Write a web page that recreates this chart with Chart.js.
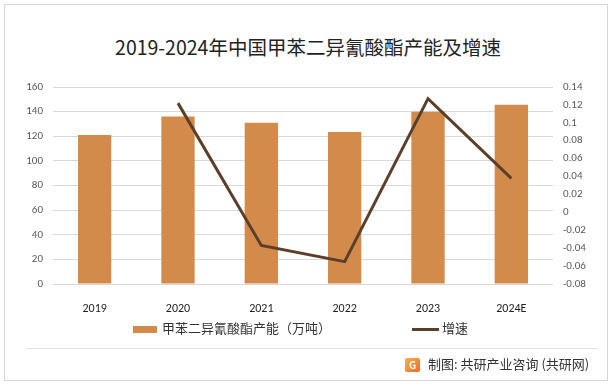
<!DOCTYPE html>
<html>
<head>
<meta charset="utf-8">
<script src="https://cdn.jsdelivr.net/npm/chart.js@4"></script>
<style>
    body { margin: 0; background: #fff; font-family: "Noto Sans CJK SC", "Noto Sans", sans-serif; }
    #wrap { position: relative; width: 616px; height: 388px; overflow: hidden; }
    #frame { position: absolute; left: 4px; top: 4px; width: 604px; height: 377px; border: 1px solid #d6d6d6; box-sizing: border-box; }
    #title { position: absolute; left: 0; width: 616px; top: 33px; text-align: center; font-size: 19.5px; color: #222; line-height: 28px; }
    canvas { position: absolute; left: 0; top: 0; }
    .legend { position: absolute; top: 319px; font-size: 13px; color: #333; line-height: 18px; white-space: nowrap; }
    .sw-bar { display: inline-block; width: 24px; height: 7px; background: #d38b4c; vertical-align: middle; margin-right: 5px; }
    .sw-line { display: inline-block; width: 27px; height: 3px; background: #5c3f2a; vertical-align: middle; margin-right: 3px; }
    #sep { position: absolute; left: 26px; width: 572px; top: 348px; height: 1px; background: #e2e2e2; }
    #footer { position: absolute; left: 405px; top: 355px; font-size: 13px; color: #333; line-height: 18px; white-space: nowrap; }
    .logo { display: inline-block; width: 15px; height: 14px; border-radius: 2px; background: linear-gradient(135deg, #f6b24a, #ee6a2c); color: #fff; font-size: 10px; line-height: 14px; text-align: center; vertical-align: middle; margin-right: 8px; font-weight: bold; }
</style>
</head>
<body>
<div id="wrap">
    <div id="frame"></div>
    <div id="title">2019-2024年中国甲苯二异氰酸酯产能及增速</div>
    <canvas id="chart" width="616" height="388"></canvas>
    <div class="legend" style="left:133px"><span class="sw-bar"></span>甲苯二异氰酸酯产能（万吨）</div>
    <div class="legend" style="left:412px"><span class="sw-line"></span>增速</div>
    <div id="sep"></div>
    <div id="footer"><span class="logo">G</span>制图: 共研产业咨询 (共研网)</div>
</div>
<script>
// 数据
const years = ['2019', '2020', '2021', '2022', '2023', '2024E'];
const capacity = [121, 136, 131, 123.5, 140, 145.5];
const growth = [null, 0.122, -0.037, -0.055, 0.127, 0.038];
const leftTicks = [0, 20, 40, 60, 80, 100, 120, 140, 160];
const rightTicks = [-0.08, -0.06, -0.04, -0.02, 0, 0.02, 0.04, 0.06, 0.08, 0.1, 0.12, 0.14];

const textColor = '#595959';
const tickFont = { family: 'Calibri, Carlito, "Liberation Sans", sans-serif', size: 11 };

const ctx = document.getElementById('chart').getContext('2d');
new Chart(ctx, {
    type: 'bar',
    data: {
        labels: years,
        datasets: [
            {
                type: 'line',
                label: '增速',
                data: growth,
                yAxisID: 'y1',
                borderColor: '#5c3f2a',
                borderWidth: 3,
                pointRadius: 0,
                tension: 0,
                fill: false,
                order: 0
            },
            {
                label: '甲苯二异氰酸酯产能（万吨）',
                data: capacity,
                yAxisID: 'y',
                backgroundColor: '#d38b4c',
                barPercentage: 0.4,
                categoryPercentage: 1,
                order: 1
            }
        ]
    },
    options: {
        responsive: false,
        animation: false,
        layout: { padding: { left: 10, right: 10, top: 87, bottom: 74 } },
        plugins: {
            legend: { display: false },
            tooltip: { enabled: false }
        },
        scales: {
            x: {
                grid: { display: false },
                border: { display: false },
                ticks: { color: '#222', font: { family: tickFont.family, size: 12 }, padding: 10 },
                afterFit: s => { s.height = 30; }
            },
            y: {
                position: 'left',
                min: 0,
                max: 160,
                afterBuildTicks: s => { s.ticks = leftTicks.map(v => ({ value: v })); },
                grid: { color: '#d9d9d9', drawTicks: false },
                border: { display: false },
                ticks: { color: textColor, font: tickFont, padding: 10 },
                afterFit: s => { s.width = 43; }
            },
            y1: {
                position: 'right',
                min: -0.08,
                max: 0.14,
                afterBuildTicks: s => { s.ticks = rightTicks.map(v => ({ value: v })); },
                grid: { display: false, drawTicks: false },
                border: { display: false },
                ticks: {
                    color: textColor,
                    font: tickFont,
                    padding: 10,
                    callback: v => String(Math.round(v * 100) / 100)
                },
                afterFit: s => { s.width = 53; }
            }
        }
    }
});
</script>
</body>
</html>
